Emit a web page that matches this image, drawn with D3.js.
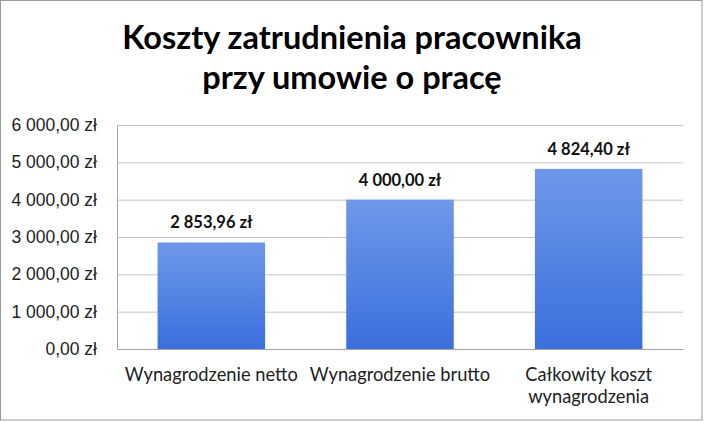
<!DOCTYPE html>
<html>
<head>
<meta charset="utf-8">
<script src="https://cdn.jsdelivr.net/npm/d3@7"></script>
<style>
  html, body { margin: 0; padding: 0; background: #fff; }
  svg { display: block; font-family: Lato, "Open Sans", sans-serif; }
</style>
</head>
<body>
<svg id="chart"></svg>
<script>
// data
const categories = ['Wynagrodzenie netto', 'Wynagrodzenie brutto', 'Całkowity koszt wynagrodzenia'];
const values = [2853.96, 4000.00, 4824.40];
const yTicks = [0, 1000, 2000, 3000, 4000, 5000, 6000];
const titleLines = ['Koszty zatrudnienia pracownika', 'przy umowie o pracę'];

const W = 704, H = 422;
const svg = d3.select('#chart').attr('width', W).attr('height', H);

// outer frame
svg.append('rect')
  .attr('x', 0.5).attr('y', 0.5)
  .attr('width', W - 2.5).attr('height', H - 2.5)
  .attr('fill', '#fff').attr('stroke', '#9a9a9a');

// gradient for bars
const grad = svg.append('defs').append('linearGradient')
  .attr('id', 'barGrad').attr('x1', 0).attr('y1', 0).attr('x2', 0).attr('y2', 1);
grad.append('stop').attr('offset', '0%').attr('stop-color', '#6f98ea');
grad.append('stop').attr('offset', '100%').attr('stop-color', '#3a6fdc');

// plot area
const margin = { top: 125, right: 21, bottom: 73, left: 117 };
const innerW = W - margin.left - margin.right;
const innerH = H - margin.top - margin.bottom;

const g = svg.append('g').attr('transform', `translate(${margin.left},${margin.top})`);

const x = d3.scaleBand()
  .domain(categories)
  .range([0, innerW])
  .paddingInner(0.43)
  .paddingOuter(0.215);

const y = d3.scaleLinear()
  .domain([0, 6000])
  .range([innerH, 0]);

const fmt = v => d3.format(',.2f')(v).replace(/,/g, ' ').replace('.', ',') + ' zł';

// gridlines + y axis
const yAxis = g.append('g')
  .call(d3.axisLeft(y).tickValues(yTicks).tickSize(-innerW).tickPadding(20).tickFormat(fmt));
yAxis.select('.domain').attr('stroke', '#a6a6a6');
yAxis.selectAll('.tick line').attr('stroke', '#c4c4c4');
yAxis.selectAll('.tick text')
  .attr('fill', '#222').style('font-size', '17.5px');

// bars
g.selectAll('.bar')
  .data(values)
  .join('rect')
    .attr('class', 'bar')
    .attr('x', (d, i) => x(categories[i]))
    .attr('width', x.bandwidth())
    .attr('y', d => y(d))
    .attr('height', d => innerH - y(d))
    .attr('fill', 'url(#barGrad)');

// x axis line
const xAxis = g.append('g')
  .attr('transform', `translate(0,${innerH})`)
  .call(d3.axisBottom(x).tickSize(0).tickFormat(''));
xAxis.select('.domain').attr('stroke', '#a6a6a6');

// category labels (wrapped like Excel)
const labelLines = { 'Całkowity koszt wynagrodzenia': ['Całkowity koszt', 'wynagrodzenia'] };
categories.forEach(c => {
  const lines = labelLines[c] || [c];
  const t = g.append('text')
    .attr('x', x(c) + x.bandwidth() / 2)
    .attr('y', innerH + 32)
    .attr('text-anchor', 'middle')
    .attr('fill', '#222')
    .style('font-size', '18.3px');
  lines.forEach((l, i) => {
    t.append('tspan')
      .attr('x', x(c) + x.bandwidth() / 2)
      .attr('dy', i === 0 ? 0 : 22)
      .text(l);
  });
});

// data labels
g.selectAll('.val')
  .data(values)
  .join('text')
    .attr('class', 'val')
    .attr('x', (d, i) => x(categories[i]) + x.bandwidth() / 2)
    .attr('y', d => y(d) - 14)
    .attr('text-anchor', 'middle')
    .attr('fill', '#111')
    .style('font-size', '16.5px')
    .style('font-weight', 'bold')
    .text(fmt);

// title
svg.append('g').selectAll('text')
  .data(titleLines)
  .join('text')
    .attr('x', 352)
    .attr('y', (d, i) => 49 + i * 40)
    .attr('text-anchor', 'middle')
    .attr('fill', '#000')
    .style('font-size', '32.5px')
    .style('font-weight', 'bold')
    .text(d => d);
</script>
</body>
</html>
